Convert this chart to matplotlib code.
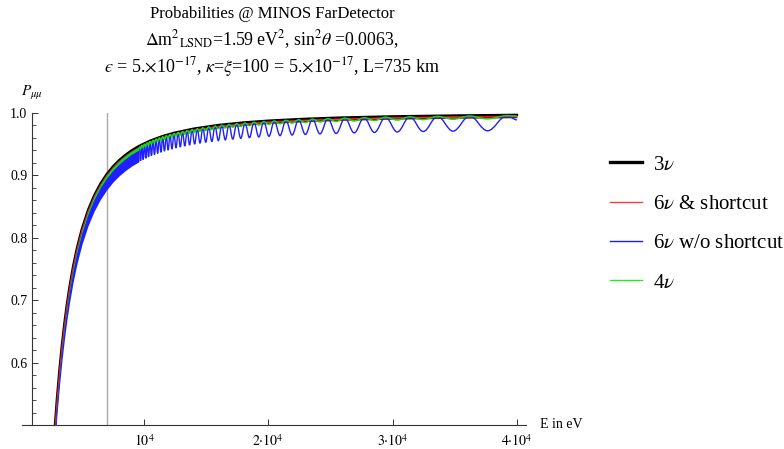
import matplotlib
matplotlib.use("Agg")
import matplotlib.pyplot as plt
from matplotlib.path import Path
from matplotlib.patches import PathPatch
from matplotlib.lines import Line2D
from matplotlib.ticker import MultipleLocator, FixedLocator

# --- data ----------------------------------------------------------------
# smooth curves (3nu and the upper / lower edges of the dense bands), E in eV
energy = [2800, 3000, 3200, 3400, 3600, 3800, 4000, 4300, 4600, 5000, 5500,
          6000, 6500, 7000, 7500, 8000, 8500, 9000, 9600, 10500, 11500,
          12500, 14000, 16000, 18000, 20000, 23000, 26000, 30000, 35000, 40000]
p_3nu = [0.4890, 0.5420, 0.5881, 0.6281, 0.6629, 0.6934, 0.7201, 0.7543,
         0.7828, 0.8139, 0.8444, 0.8681, 0.8868, 0.9019, 0.9142, 0.9243,
         0.9327, 0.9399, 0.9470, 0.9556, 0.9629, 0.9685, 0.9748, 0.9807,
         0.9847, 0.9876, 0.9906, 0.9927, 0.9945, 0.9959, 0.9969]
p_6nu_sc = [0.4870, 0.5400, 0.5861, 0.6261, 0.6609, 0.6914, 0.7181, 0.7523,
            0.7808, 0.8119, 0.8424, 0.8661, 0.8848, 0.8999, 0.9122, 0.9223,
            0.9307, 0.9379, 0.9450, 0.9536, 0.9609, 0.9665, 0.9728, 0.9787,
            0.9827, 0.9856, 0.9886, 0.9907, 0.9925, 0.9939, 0.9949]
p_6nu_sc_low = [0.4845, 0.5375, 0.5836, 0.6236, 0.6584, 0.6889, 0.7156,
                0.7498, 0.7783, 0.8094, 0.8399, 0.8636, 0.8823, 0.8974,
                0.9097, 0.9198, 0.9282, 0.9354, 0.9425, 0.9511, 0.9584,
                0.9640, 0.9703, 0.9762, 0.9802, 0.9831, 0.9861, 0.9882,
                0.9900, 0.9914, 0.9924]

# below ~9.6 keV the oscillations are too fast to resolve: only a band
band_energy = [2800, 3000, 3200, 3400, 3600, 3800, 4000, 4300, 4600, 5000,
               5500, 6000, 6500, 7000, 7500, 8000, 8500, 9000, 9600]
band_top = [0.4880, 0.5410, 0.5871, 0.6271, 0.6619, 0.6924, 0.7191, 0.7533,
            0.7818, 0.8129, 0.8434, 0.8671, 0.8858, 0.9009, 0.9132, 0.9233,
            0.9317, 0.9389, 0.9460]
blue_band_low = [0.4640, 0.5170, 0.5631, 0.6031, 0.6379, 0.6684, 0.6951,
                 0.7293, 0.7578, 0.7889, 0.8194, 0.8431, 0.8618, 0.8769,
                 0.8892, 0.8993, 0.9077, 0.9149, 0.9220]
green_band_low = [0.4830, 0.5360, 0.5821, 0.6221, 0.6569, 0.6874, 0.7141,
                  0.7483, 0.7768, 0.8079, 0.8384, 0.8621, 0.8808, 0.8959,
                  0.9082, 0.9183, 0.9267, 0.9339, 0.9410]

# resolved oscillations: maxima / minima (alternating), last point = curve end
wave_energy = [9627, 9726, 9827, 9931, 10036, 10144, 10254, 10367, 10482,
               10599, 10720, 10843, 10969, 11098, 11230, 11365, 11503, 11645,
               11791, 11940, 12093, 12249, 12410, 12576, 12745, 12920, 13099,
               13283, 13473, 13668, 13868, 14075, 14288, 14508, 14734, 14968,
               15209, 15458, 15715, 15981, 16256, 16541, 16836, 17141, 17458,
               17787, 18128, 18483, 18852, 19236, 19636, 20053, 20488, 20943,
               21418, 21915, 22436, 22982, 23555, 24158, 24792, 25460, 26166,
               26911, 27701, 28538, 29427, 30374, 31383, 32462, 33618, 34859,
               36195, 37638, 39200, 40000]
p_6nu_nosc = [0.9463, 0.9233, 0.9484, 0.9254, 0.9504, 0.9274, 0.9524, 0.9294,
              0.9544, 0.9314, 0.9563, 0.9333, 0.9582, 0.9352, 0.9601, 0.9370,
              0.9619, 0.9388, 0.9637, 0.9405, 0.9654, 0.9422, 0.9671, 0.9439,
              0.9687, 0.9455, 0.9703, 0.9471, 0.9719, 0.9486, 0.9734, 0.9501,
              0.9748, 0.9516, 0.9763, 0.9530, 0.9777, 0.9543, 0.9790, 0.9557,
              0.9803, 0.9569, 0.9816, 0.9582, 0.9828, 0.9594, 0.9839, 0.9605,
              0.9851, 0.9616, 0.9862, 0.9627, 0.9872, 0.9637, 0.9882, 0.9647,
              0.9892, 0.9656, 0.9901, 0.9665, 0.9909, 0.9673, 0.9918, 0.9681,
              0.9925, 0.9689, 0.9933, 0.9696, 0.9940, 0.9703, 0.9946, 0.9709,
              0.9952, 0.9715, 0.9958, 0.9890]
p_4nu = [0.9463, 0.9423, 0.9484, 0.9444, 0.9504, 0.9464, 0.9524, 0.9484,
         0.9544, 0.9504, 0.9563, 0.9523, 0.9582, 0.9542, 0.9601, 0.9560,
         0.9619, 0.9578, 0.9637, 0.9595, 0.9654, 0.9612, 0.9671, 0.9629,
         0.9687, 0.9645, 0.9703, 0.9661, 0.9719, 0.9676, 0.9734, 0.9691,
         0.9748, 0.9706, 0.9763, 0.9720, 0.9777, 0.9733, 0.9790, 0.9747,
         0.9803, 0.9759, 0.9816, 0.9772, 0.9828, 0.9784, 0.9839, 0.9795,
         0.9851, 0.9806, 0.9862, 0.9817, 0.9872, 0.9827, 0.9882, 0.9837,
         0.9892, 0.9846, 0.9901, 0.9855, 0.9909, 0.9863, 0.9918, 0.9871,
         0.9925, 0.9879, 0.9933, 0.9886, 0.9940, 0.9893, 0.9946, 0.9899,
         0.9952, 0.9905, 0.9958, 0.9950]

e_marker = 7000
x_ticks = [10000, 20000, 30000, 40000]
x_ticklabels = [r"$10^{4}$", r"$2{\cdot}10^{4}$", r"$3{\cdot}10^{4}$", r"$4{\cdot}10^{4}$"]
y_ticks = [0.6, 0.7, 0.8, 0.9, 1.0]
labels = [r"3$\nu$", r"6$\nu$ & shortcut", r"6$\nu$ w/o shortcut", r"4$\nu$"]

BLUE = "#1f1fff"
GREEN = "#0fe00f"
RED = "#ff1010"

plt.rcParams["font.family"] = "serif"
plt.rcParams["font.serif"] = ["Liberation Serif", "DejaVu Serif"]
plt.rcParams["mathtext.fontset"] = "stix"


def wave_path(xs, ys):
    # smooth wave through the extrema (horizontal tangent at each one)
    verts = [(xs[0], ys[0])]
    codes = [Path.MOVETO]
    for i in range(1, len(xs)):
        dx = xs[i] - xs[i - 1]
        verts += [(xs[i - 1] + 0.364 * dx, ys[i - 1]),
                  (xs[i] - 0.364 * dx, ys[i]),
                  (xs[i], ys[i])]
        codes += [Path.CURVE4] * 3
    return Path(verts, codes)


fig = plt.figure(figsize=(7.84, 4.49), dpi=100)
ax = fig.add_axes([22 / 784, 24 / 449, 504 / 784, 312 / 449])
ax.set_xlim(185, 40732)
ax.set_ylim(0.5, 1.0)

ax.axvline(e_marker, color="#a9a9a9", lw=1.0, zorder=1)

ax.plot(energy, p_3nu, color="black", lw=1.8, zorder=2)
ax.fill_between(energy, p_6nu_sc_low, p_6nu_sc, color="#7a1a1a", lw=0, zorder=3)
ax.plot(energy, p_6nu_sc, color=RED, lw=0.8, zorder=3)

ax.fill_between(band_energy, blue_band_low, band_top, color=BLUE, lw=0, zorder=4)
ax.add_patch(PathPatch(wave_path(wave_energy, p_6nu_nosc), fill=False,
                       edgecolor=BLUE, lw=1.0, zorder=4))
ax.fill_between(band_energy, green_band_low, band_top, color=GREEN, lw=0, zorder=5)
ax.add_patch(PathPatch(wave_path(wave_energy, p_4nu), fill=False,
                       edgecolor=GREEN, lw=1.0, zorder=5))

# Mathematica-style axes
for s in ["top", "right"]:
    ax.spines[s].set_visible(False)
ax.spines["left"].set_position(("data", 1000))
for s in ["left", "bottom"]:
    ax.spines[s].set_color("#333333")
    ax.spines[s].set_linewidth(0.8)

ax.xaxis.set_major_locator(FixedLocator(x_ticks))
ax.set_xticklabels(x_ticklabels)
ax.yaxis.set_major_locator(FixedLocator(y_ticks))
ax.yaxis.set_minor_locator(MultipleLocator(0.02))
ax.tick_params(axis="both", which="major", direction="in", length=4.5,
               width=0.7, color="#333333", labelsize=10)
ax.tick_params(axis="y", which="minor", direction="in", length=2.8,
               width=0.6, color="#333333")
ax.tick_params(axis="x", which="major", pad=6)
ax.tick_params(axis="y", which="major", pad=3.5)

ax.annotate(r"$P_{\mu\mu}$", xy=(1000, 1.0), xytext=(0, 12),
            textcoords="offset points", ha="center", va="baseline", fontsize=11)
ax.annotate("E in eV", xy=(1.0, 0.0), xycoords="axes fraction",
            xytext=(10, 0), textcoords="offset points", ha="left",
            va="center", fontsize=10)

cx = 272 / 784
fig.text(cx, 1 - 18 / 449, "Probabilities @ MINOS FarDetector",
         ha="center", va="baseline", fontsize=12)
fig.text(cx, 1 - 45 / 449,
         r"$\Delta$m$^{2}$$_{\rm LSND}$=1.59 eV$^{2}$, sin$^{2}\theta$ =0.0063,",
         ha="center", va="baseline", fontsize=12.8)
fig.text(cx, 1 - 72 / 449,
         "$\u03f5$" + r" = 5.$\times$10$^{-17}$, $\kappa$=$\xi$=100 = 5.$\times$10$^{-17}$, L=735 km",
         ha="center", va="baseline", fontsize=13)

handles = [Line2D([], [], color="black", lw=2.4),
           Line2D([], [], color="#ff3a3a", lw=1.0),
           Line2D([], [], color="#2020d8", lw=1.0),
           Line2D([], [], color="#20f020", lw=1.0)]
fig.legend(handles, labels, loc="upper left", bbox_to_anchor=(610 / 784, 1 - 155 / 449),
           frameon=False, fontsize=15, handlelength=1.55, handletextpad=0.5,
           labelspacing=0.95, borderpad=0, borderaxespad=0)

fig.savefig("out.png", dpi=100)
